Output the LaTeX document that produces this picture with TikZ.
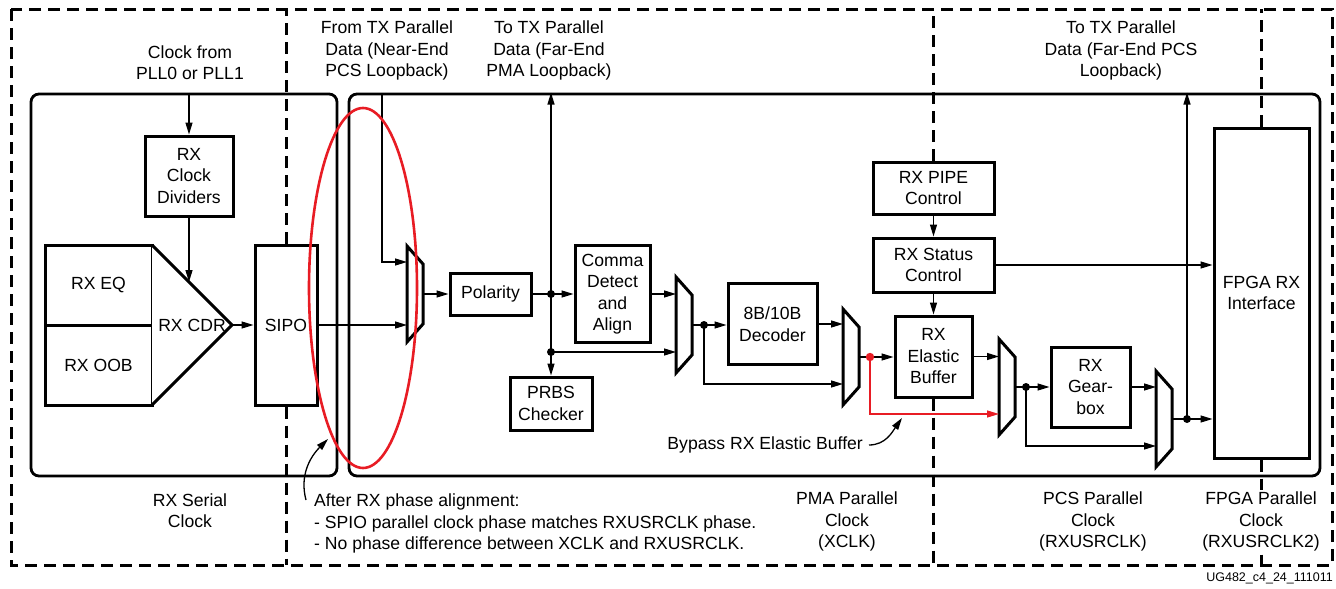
\documentclass[tikz,border=0pt]{standalone}
\usepackage{fontspec}
\setmainfont{Liberation Sans}
\usetikzlibrary{arrows.meta}
\definecolor{xred}{RGB}{232,28,36}

\begin{document}
\begin{tikzpicture}[x=1pt,y=-1pt,>={Triangle[length=12pt,width=7pt]},
  font=\fontsize{17.6}{21.5}\selectfont,
  blk/.style={draw,line width=3pt,fill=white,inner sep=0pt,align=center},
  clkbox/.style={draw,line width=2.8pt,rounded corners=8pt,inner sep=0pt},
  clk/.style={line width=3pt,dash pattern=on 12pt off 7pt},
  sig/.style={line width=1.3pt},
  lbl/.style={align=center,inner sep=0pt}]
\useasboundingbox (0,0) rectangle (1336,589);

% clock domains
\draw[clk] (11,9) rectangle (1332,565);
\node[clkbox,minimum width=306,minimum height=382] (lbox) at (184,285) {};
\node[clkbox,minimum width=971,minimum height=382] (rbox) at (834.5,285) {};

% serial side
\node[blk,minimum width=88,minimum height=80] (div) at (189,176) {RX\\Clock\\Dividers};
\node[blk,minimum width=107,minimum height=80] (eq) at (98.5,285) {RX EQ};
\node[blk,minimum width=107,minimum height=80] (oob) at (98.5,365) {RX OOB};
\draw[line width=3pt,fill=white] (152,245) -- (232,325) -- (152,405);
\coordinate (cdr) at (232,325);
\coordinate (cdrin) at (189,282);
\node[lbl] (cdrlbl) at (192,325) {RX CDR};
\node[blk,minimum width=62,minimum height=160] (sipo) at (286,325) {SIPO};

% PMA / PCS blocks
\node[blk,minimum width=81,minimum height=42] (polar) at (490.5,294) {Polarity};
\node[blk,minimum width=75,minimum height=97] (comma) at (612.5,294) {Comma\\Detect\\and\\Align};
\node[blk,minimum width=82,minimum height=53] (prbs) at (551,403.5) {PRBS\\Checker};
\node[blk,minimum width=89,minimum height=81] (dec) at (772.5,324) {8B/10B\\Decoder};
\node[blk,minimum width=121,minimum height=52] (pipe) at (933.5,188) {RX PIPE\\Control};
\node[blk,minimum width=121,minimum height=54] (stat) at (933.5,265) {RX Status\\Control};
\node[blk,minimum width=77,minimum height=81] (ebuf) at (933.5,356.5) {RX\\Elastic\\Buffer};
\node[blk,minimum width=79,minimum height=80] (gear) at (1090.5,387) {RX\\Gear-\\box};
\node[blk,minimum width=95,minimum height=330] (fpga) at (1261.5,293) {FPGA RX\\Interface};

% muxes
\foreach \n/\x/\y in {m1/407/294,m2/676/325,m3/843/357,m4/999/387,m5/1156/419}{
  \draw[line width=3pt,fill=white] (\x,\y-48) -- (\x+16,\y-30) -- (\x+16,\y+30) -- (\x,\y+48) -- cycle;
  \coordinate (\n) at (\x,\y);
  \coordinate (\n-o) at (\x+16,\y);
  \coordinate (\n-b) at (\x,\y+27);
}

% clock boundaries
\draw[clk] (sipo.north) -- (sipo.north |- 0,9);
\draw[clk] (sipo.south) -- (sipo.south |- 0,565);
\draw[clk] (pipe.north) -- (pipe.north |- 0,9);
\draw[clk] (ebuf.south) -- (ebuf.south |- 0,565);
\draw[clk] (fpga.north) -- (fpga.north |- 0,9);
\draw[clk] (fpga.south) -- (fpga.south |- 0,565);

% branch points
\coordinate (nearin) at (382,94);
\coordinate (d1) at (551,294);
\coordinate (d2) at (551,352);
\coordinate (d3) at (704,325);
\coordinate (d4) at (870,357);
\coordinate (d5) at (1026,387);
\coordinate (d6) at (1187,419);

% data path
\draw[sig,->] (div.north |- lbox.north) -- (div.north);
\draw[sig,->] (div.south) -- (cdrin);
\draw[sig,->] (cdr) -- (sipo.west);
\draw[sig,->] (sipo.east) -- (sipo.east -| m1);
\draw[sig,->] (nearin) |- (m1 |- 0,262);
\draw[sig,->] (m1-o) -- (m1-o -| polar.west);
\draw[sig,->] (polar.east) -- (comma.west);
\draw[sig,->] (d1) -- (d1 |- rbox.north);
\draw[sig,->] (d1) -- (prbs.north);
\draw[sig,->] (d2) -- (m2-b);
\draw[sig,->] (comma.east) -- (comma.east -| m2);
\draw[sig,->] (m2-o) -- (m2-o -| dec.west);
\draw[sig,->] (d3) |- (m3-b);
\draw[sig,->] (dec.east) -- (dec.east -| m3);
\draw[sig,->] (m3-o) -- (m3-o -| ebuf.west);
\draw[sig,->,xred] (d4) |- (m4-b);
\draw[sig,->] (ebuf.east) -- (ebuf.east -| m4);
\draw[sig,->] (m4-o) -- (m4-o -| gear.west);
\draw[sig,->] (d5) |- (m5-b);
\draw[sig,->] (gear.east) -- (gear.east -| m5);
\draw[sig,->] (m5-o) -- (m5-o -| fpga.west);
\draw[sig,->] (d6) -- (d6 |- rbox.north);
\draw[sig,->] (pipe) -- (stat);
\draw[sig,->] (stat.east) -- (stat.east -| fpga.west);
\draw[sig,->] (stat) -- (ebuf);
\foreach \d in {d1,d2,d3,d5,d6} \fill (\d) circle (4pt);
\fill[xred] (d4) circle (4.2pt);

% labels
\node[lbl] (pllin) at (190,62.5) {Clock from\\PLL0 or PLL1};
\node[lbl] (nearlbl) at (387,50.5) {From TX Parallel\\Data (Near-End\\PCS Loopback)};
\node[lbl] (pmalbl) at (549,50.5) {To TX Parallel\\Data (Far-End\\PMA Loopback)};
\node[lbl] (pcslbl) at (1121,50.5) {To TX Parallel\\Data (Far-End PCS\\Loopback)};
\node[lbl] (serclk) at (190,510.5) {RX Serial\\Clock};
\node[lbl] (xclk) at (847,521.5) {PMA Parallel\\Clock\\(XCLK)};
\node[lbl] (usrclk) at (1093,521.5) {PCS Parallel\\Clock\\(RXUSRCLK)};
\node[lbl,fill=white,inner sep=2pt] (usrclk2) at (1261,521.5) {FPGA Parallel\\Clock\\(RXUSRCLK2)};
\node[lbl,align=left,anchor=west] (note) at (314,523.5) {After RX phase alignment:\\- SPIO parallel clock phase matches RXUSRCLK phase.\\- No phase difference between XCLK and RXUSRCLK.};
\node[lbl,anchor=east] (bypass) at (863,445) {Bypass RX Elastic Buffer};
\node[lbl,anchor=east,font=\fontsize{12.5}{14}\selectfont] (fig) at (1333,578) {UG482\_c4\_24\_111011};

% callouts
\coordinate (notetail) at (306,500);
\coordinate (notetip) at (328,439);
\coordinate (bytip) at (902,418);
\draw[sig,->] (notetail) to[out=105,in=225] (notetip);
\draw[sig,->] (bypass.east) ++(6,0) to[out=0,in=235] (bytip);
\draw[xred,line width=2.6pt] (363,288) ellipse [x radius=54pt,y radius=180pt];
\end{tikzpicture}
\end{document}
